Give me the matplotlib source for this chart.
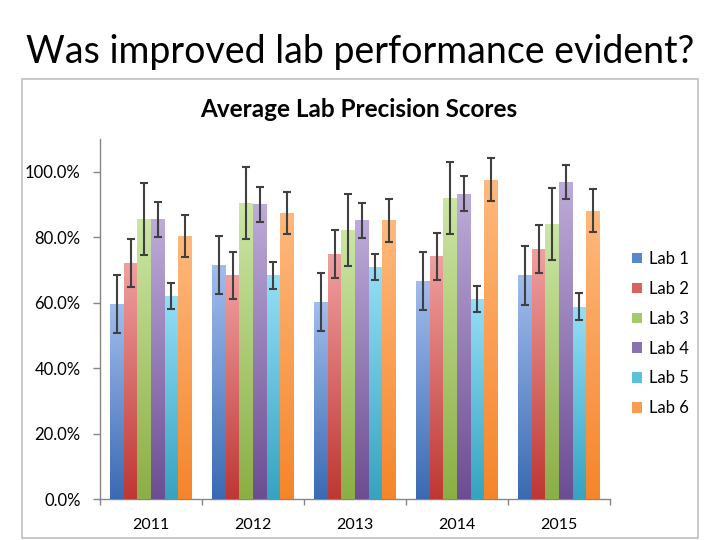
import numpy as np
import matplotlib
matplotlib.use("Agg")
import matplotlib.pyplot as plt
from matplotlib.colors import LinearSegmentedColormap
from matplotlib.patches import Rectangle
from matplotlib.ticker import FixedLocator, FuncFormatter

plt.rcParams['font.family'] = ['Lato', 'DejaVu Sans']

years = ['2011', '2012', '2013', '2014', '2015']
labs = ['Lab 1', 'Lab 2', 'Lab 3', 'Lab 4', 'Lab 5', 'Lab 6']
lab1 = [59.5, 71.5, 60.1, 66.7, 68.3]
lab2 = [72.0, 68.3, 74.8, 74.1, 76.3]
lab3 = [85.5, 90.3, 82.2, 92.1, 84.1]
lab4 = [85.5, 90.0, 85.1, 93.3, 96.9]
lab5 = [62.1, 68.3, 71.0, 61.1, 58.8]
lab6 = [80.4, 87.4, 85.1, 97.6, 88.1]
err1 = [8.9, 8.9, 8.9, 8.9, 8.9]
err2 = [7.3, 7.3, 7.3, 7.3, 7.3]
err3 = [11.0, 11.0, 11.0, 11.0, 11.0]
err4 = [5.3, 5.3, 5.3, 5.3, 5.3]
err5 = [4.0, 4.0, 4.0, 4.0, 4.0]
err6 = [6.5, 6.5, 6.5, 6.5, 6.5]

values = [lab1, lab2, lab3, lab4, lab5, lab6]
errors = [err1, err2, err3, err4, err5, err6]
tops = ['#A2BDED', '#F0A0A0', '#CCE6A6', '#BDACD9', '#95DEF7', '#FFB97E']
bottoms = ['#3A6AB3', '#BE3733', '#8BAE45', '#6C4D93', '#36A3C0', '#F5852A']
mids = ['#5A86CC', '#D56462', '#A6C86C', '#8A72B2', '#5CC0DD', '#F99B50']

fig = plt.figure(figsize=(7.2, 5.4), dpi=100)
fig.patch.set_facecolor('white')

# chart frame
fig.patches.append(Rectangle((22/720, 2/540), 675.7/720, 459.3/540,
                             transform=fig.transFigure, fill=False,
                             edgecolor='#BFBFBF', linewidth=1.2, zorder=0))

fig.text(0.5, (540-63)/540, 'Was improved lab performance evident?',
         ha='center', va='baseline', fontsize=27, color='black')
fig.text(359/720, (540-117)/540, 'Average Lab Precision Scores',
         ha='center', va='baseline', fontsize=17.5, fontweight='bold', color='black')

ax = fig.add_axes([100/720, 41/540, 510/720, 360/540])
x = np.arange(len(years))
n = len(labs)
bw = 0.8 / n
for i in range(n):
    offs = x - 0.4 + bw * (i + 0.5)
    bars = ax.bar(offs, values[i], width=bw, color=mids[i], label=labs[i],
                  linewidth=0, zorder=2)
    ax.errorbar(offs, values[i], yerr=errors[i], fmt='none', ecolor='#404040',
                elinewidth=1.5, capsize=3, capthick=1.5, zorder=4)
    cmap = LinearSegmentedColormap.from_list('g%d' % i, [bottoms[i], tops[i]])
    grad = np.linspace(0, 1, 256).reshape(-1, 1)
    for r in bars:
        bx, by, w, h = r.get_x(), r.get_y(), r.get_width(), r.get_height()
        im = ax.imshow(grad, extent=[bx, bx + w, by, by + h], origin='lower',
                       cmap=cmap, aspect='auto', zorder=3, interpolation='bilinear')
        im.set_clip_path(r)

ax.set_xlim(-0.5, len(years) - 0.5)
ax.set_ylim(0, 110)
ax.set_yticks([0, 20, 40, 60, 80, 100])
ax.yaxis.set_major_formatter(FuncFormatter(lambda v, p: '%.1f%%' % v))
ax.xaxis.set_major_locator(FixedLocator(np.arange(len(years) + 1) - 0.5))
ax.xaxis.set_minor_locator(FixedLocator(x))
ax.set_xticklabels([], minor=False)
ax.set_xticklabels(years, minor=True)
ax.tick_params(axis='x', which='major', length=4, color='#868686', width=1)
ax.tick_params(axis='x', which='minor', length=0, pad=14, labelsize=11.5)
ax.tick_params(axis='y', length=5, color='#868686', width=1, pad=9, labelsize=12)
for s in ['top', 'right']:
    ax.spines[s].set_visible(False)
for s in ['left', 'bottom']:
    ax.spines[s].set_color('#868686')
    ax.spines[s].set_linewidth(1)
ax.set_facecolor('none')

leg = ax.legend(loc='upper left', bbox_to_anchor=(632/720, (540-251)/540),
                bbox_transform=fig.transFigure, frameon=False, fontsize=12,
                handlelength=0.6, handleheight=0.6, handletextpad=0.4,
                labelspacing=0.83, borderpad=0, borderaxespad=0)

fig.savefig('out.png', dpi=100)
